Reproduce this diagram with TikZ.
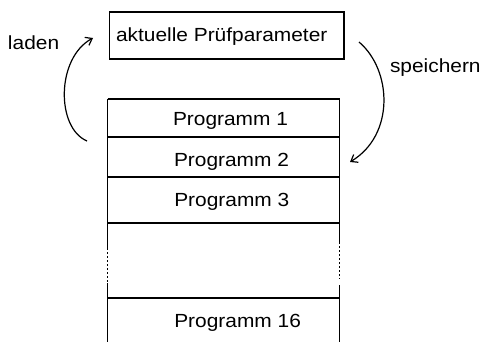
\documentclass[tikz,border=0pt]{standalone}
\usepackage{fontspec}
\setmainfont[FakeStretch=1.1]{Liberation Sans}
\usetikzlibrary{arrows.meta}
\begin{document}
\begin{tikzpicture}[x=1pt,y=-1pt,
  every node/.style={inner sep=0pt,outer sep=0pt},
  lbl/.style={anchor=base west,font=\fontsize{19}{22}\selectfont},
  frame/.style={line width=1.2pt},
  boxnode/.style={draw,line width=1.2pt,anchor=north west},
  dotseg/.style={line width=1.2pt,dash pattern=on 2pt off 2pt},
  arr/.style={line width=1.2pt,-{Straight Barb[length=6pt,width=9pt]}}]
\useasboundingbox (0,0) rectangle (486,342);
% top box
\node[boxnode,minimum width=234.5pt,minimum height=47pt] (param) at (109.5,12) {};
\node[lbl] (paramtxt) at (116,42) {aktuelle Prüfparameter};
% program stack rows (names for the rows)
\coordinate (p1) at (107.5,99);
\coordinate (p2) at (107.5,137);
\coordinate (p3) at (107.5,177);
\coordinate (pgap) at (107.5,223);
\coordinate (p16) at (107.5,298);
\foreach \yy in {99,137,177,223,298}
  \draw[frame] (107.5,\yy) -- (339.5,\yy);
% left side
\draw[frame] (107.5,99) -- (107.5,248);
\draw[dotseg] (107.5,248) -- (107.5,283);
\draw[frame] (107.5,283) -- (107.5,342);
% right side
\draw[frame] (339.5,99) -- (339.5,242);
\draw[dotseg] (339.5,242) -- (339.5,279);
\draw[frame] (339.5,285) -- (339.5,342);
% texts
\node[lbl] (t1) at (173,125) {Programm 1};
\node[lbl] (t2) at (174,166.7) {Programm 2};
\node[lbl] (t3) at (174.3,206) {Programm 3};
\node[lbl] (t16) at (174.3,327) {Programm 16};
\node[lbl] (laden) at (8,50) {laden};
\node[lbl] (speichern) at (390,73) {speichern};
% arrows
\coordinate (ls) at (87,141);
\coordinate (le) at (93,38);
\coordinate (ss) at (359,42);
\coordinate (se) at (350,162);
\draw[arr] (ls) .. controls (56,128) and (56,58) .. (le);
\draw[arr] (ss) .. controls (392,70) and (395,135) .. (se);
\end{tikzpicture}
\end{document}
